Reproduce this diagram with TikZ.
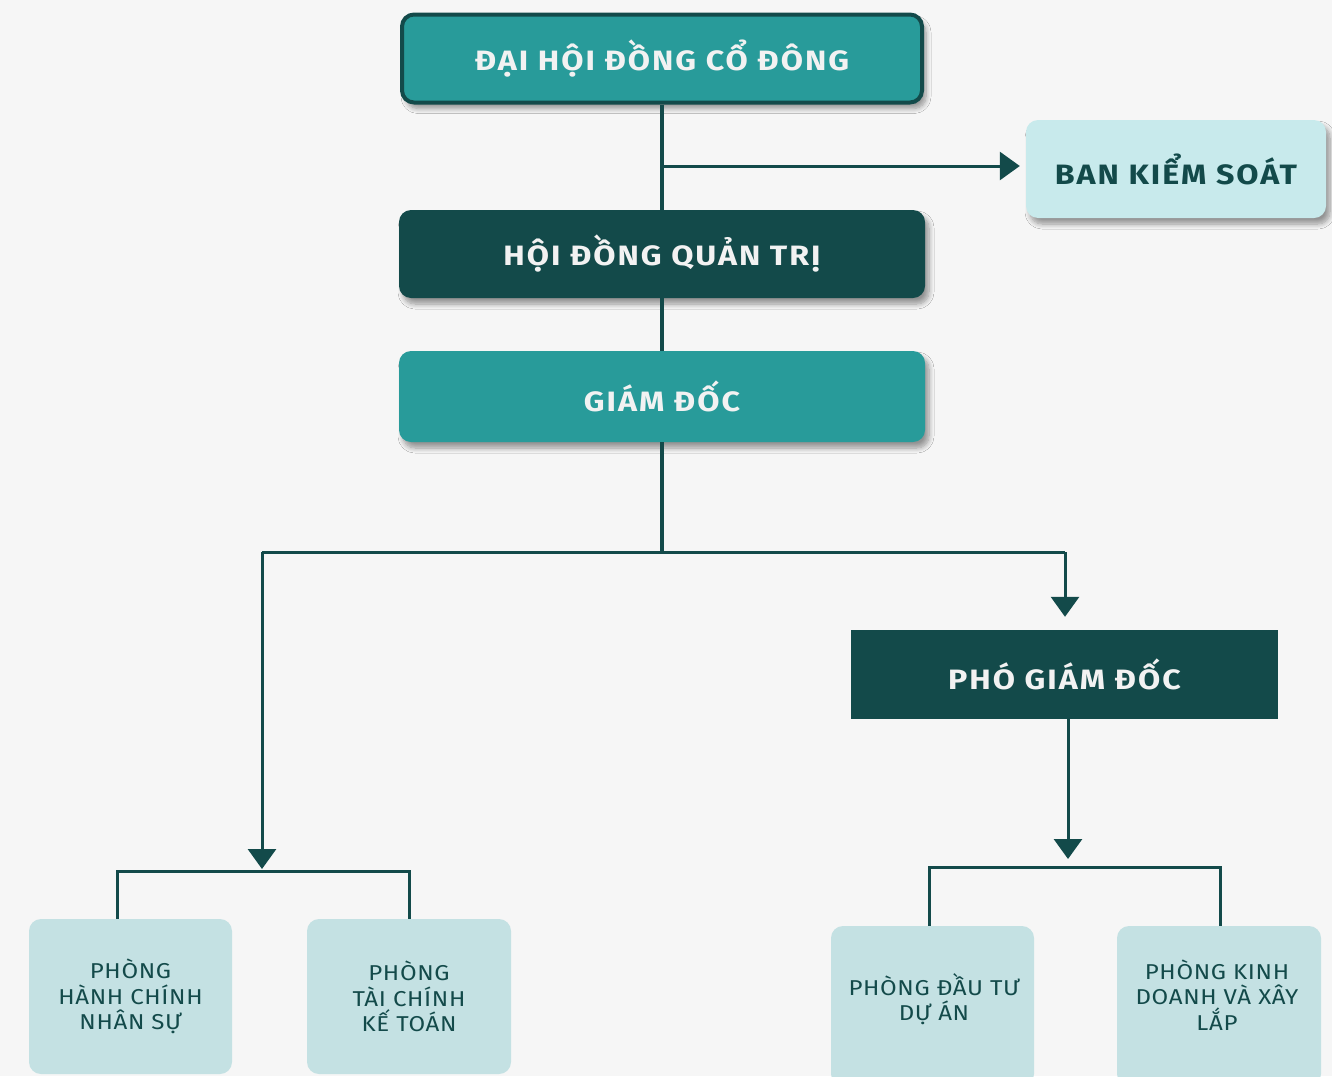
\documentclass[tikz,border=0pt]{standalone}
\usepackage{fontspec}
\setmainfont{Fira Sans}
\newfontfamily\hdfont{Fira Sans}[FakeStretch=1.15,LetterSpace=7]
\newfontfamily\medfont{Fira Sans}[FakeStretch=1.12,LetterSpace=3]
\usetikzlibrary{arrows.meta,shadows,shadows.blur,calc}
\definecolor{bg}{HTML}{F6F6F6}
\definecolor{teal}{HTML}{289B9A}
\definecolor{dark}{HTML}{134A4A}
\definecolor{light}{HTML}{C8EAEC}
\definecolor{pale}{HTML}{C4E1E3}
\definecolor{wtxt}{HTML}{F2F2F2}
\begin{document}
\begin{tikzpicture}[x=1pt,y=-1pt,
  box/.style={draw=none,rounded corners=12pt,inner sep=0pt,align=center,font=\hdfont\bfseries\fontsize{28}{32}\selectfont},
  sh/.style={blur shadow={shadow xshift=4pt,shadow yshift=-6pt,shadow blur steps=8,shadow blur radius=5pt,shadow opacity=40}},
  small/.style={fill=pale,rounded corners=12pt,inner sep=0pt,align=center,text=dark,font=\medfont\fontsize{21.5}{25.5}\selectfont},
  conn/.style={draw=dark,line width=3pt},
  tip/.style={-{Triangle[width=28pt,length=20pt]}}
]
\fill[bg] (0,0) rectangle (1332,1076);
\useasboundingbox (0,0) rectangle (1332,1076);

\node[box,sh,fill=teal,draw=dark,line width=4pt,text=wtxt,minimum width=520pt,minimum height=88pt] (dh) at (662,58.5) {ĐẠI HỘI ĐỒNG CỔ ĐÔNG};
\node[box,sh,fill=light,text=dark,minimum width=300pt,minimum height=98pt] (bks) at (1176,169) {BAN KIỂM SOÁT};
\node[box,sh,fill=dark,text=wtxt,minimum width=526pt,minimum height=88pt] (hd) at (662,254) {HỘI ĐỒNG QUẢN TRỊ};
\node[box,sh,fill=teal,text=wtxt,minimum width=526pt,minimum height=91pt] (gd) at (662,396.5) {GIÁM ĐỐC};
\node[box,rounded corners=0pt,fill=dark,text=wtxt,minimum width=427pt,minimum height=89pt] (pgd) at (1064.5,674.5) {PHÓ GIÁM ĐỐC};

\node[small,minimum width=203pt,minimum height=155pt] (p1) at (130.5,996.5) {PHÒNG\\HÀNH CHÍNH\\NHÂN SỰ};
\node[small,minimum width=204pt,minimum height=155pt] (p2) at (409,996.5) {PHÒNG\\TÀI CHÍNH\\KẾ TOÁN};
\node[small,minimum width=203pt,minimum height=160pt] (p3) at (932.5,1006) {};
\node[small,fill=none,align=center] at (934,999) {PHÒNG ĐẦU TƯ\\DỰ ÁN};
\node[small,minimum width=204pt,minimum height=160pt] (p4) at (1219,1006) {};
\node[small,fill=none,align=center] at (1217,995) {PHÒNG KINH\\DOANH VÀ XÂY\\LẮP};

\coordinate (j1) at (662,166);
\coordinate (j2) at (662,552);
\coordinate (lb) at (262,869);
\coordinate (rb) at (1068,859);

\draw[conn,line width=4pt] (dh.south) -- (hd.north);
\draw[conn,tip,shorten >=6pt] (j1) -- (j1 -| bks.west);
\draw[conn,line width=4pt] (hd.south) -- (gd.north);
\draw[conn,line width=4pt] (gd.south) -- (j2);
\draw[conn] (262,552) -- (1065,552);
\draw[conn,tip] (262,552) -- (lb);
\draw[conn,tip,shorten >=13pt] (1065,552) -- (pgd.north -| 1065,0);
\draw[conn,tip] (pgd.south -| rb) -- (rb);
\draw[conn] (p1.north -| 117,0) |- (409,871) -- (p2.north -| 409,0);
\draw[conn] (p3.north -| 929,0) |- (1220,867) -- (p4.north -| 1220,0);
\end{tikzpicture}
\end{document}
